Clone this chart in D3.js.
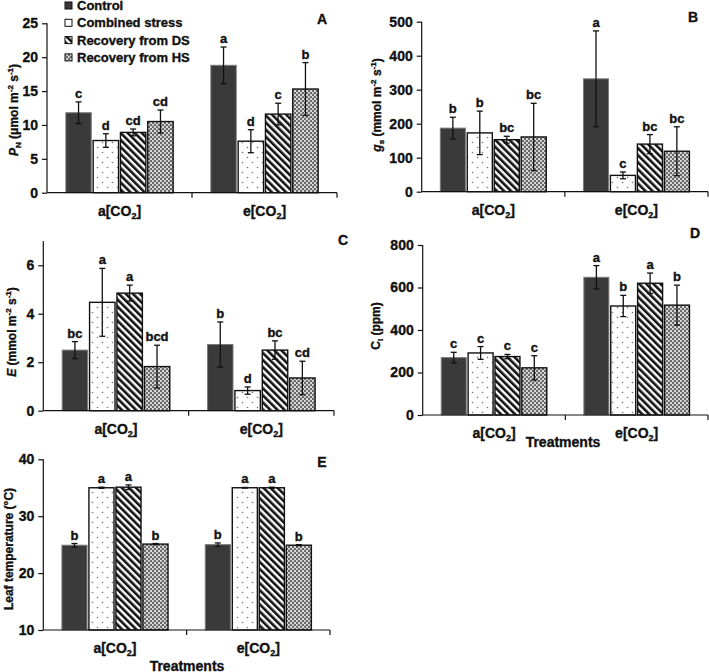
<!DOCTYPE html>
<html><head><meta charset="utf-8">
<script src="https://cdn.jsdelivr.net/npm/d3@7"></script>
<style>body{margin:0;background:#fff}svg{display:block}text{font-family:"Liberation Sans",Arial,sans-serif;font-weight:bold;fill:#111;stroke:#111;stroke-width:0.35px}</style>
</head><body><svg id="c" width="709" height="672"></svg>
<script>
const categories = ["a","e"];
const series = ["Control","Combined stress","Recovery from DS","Recovery from HS"];

// Panel A: PN
const pnMean = [[11.8,7.7,8.9,10.5],[18.8,7.6,11.6,15.3]];
const pnErr  = [[1.6,1.0,0.5,1.7],[2.7,1.7,1.6,3.9]];
const pnSig  = [["c","d","cd","cd"],["a","d","c","b"]];
const pnTicks = [0,5,10,15,20,25];
// Panel B: gs
const gsMean = [[187,173,153,161],[332,48,140,119]];
const gsErr  = [[32,64,10,99],[141,10,28,72]];
const gsSig  = [["b","b","bc","bc"],["a","c","bc","bc"]];
const gsTicks = [0,100,200,300,400,500];
// Panel C: E
const eMean = [[2.5,4.47,4.85,1.82],[2.73,0.83,2.5,1.35]];
const eErr  = [[0.35,1.4,0.33,0.88],[0.93,0.15,0.38,0.69]];
const eSig  = [["bc","a","a","bcd"],["b","d","bc","cd"]];
const eTicks = [0,2,4,6];
// Panel D: Ci
const ciMean = [[270,292,275,222],[648,513,620,517]];
const ciErr  = [[25,30,10,57],[55,50,48,94]];
const ciSig  = [["c","c","c","c"],["a","b","a","b"]];
const ciTicks = [0,200,400,600,800];
// Panel E: leaf temperature
const ltMean = [[24.9,35.0,35.1,25.1],[25.0,35.0,35.0,24.9]];
const ltErr  = [[0.3,0.1,0.4,0.1],[0.3,0.05,0.1,0.1]];
const ltSig  = [["b","a","a","b"],["b","a","a","b"]];
const ltTicks = [10,20,30,40];

const svg = d3.select("#c");
const defs = svg.append("defs");
// patterns
const pd = defs.append("pattern").attr("id","dots").attr("patternUnits","userSpaceOnUse").attr("width",10).attr("height",10);
pd.append("rect").attr("width",10).attr("height",10).attr("fill","#fff");
pd.append("circle").attr("cx",2.5).attr("cy",2.5).attr("r",0.8).attr("fill","#777");
pd.append("circle").attr("cx",7.5).attr("cy",7.5).attr("r",0.8).attr("fill","#777");
const ps = defs.append("pattern").attr("id","stripes").attr("patternUnits","userSpaceOnUse").attr("width",5).attr("height",5).attr("patternTransform","rotate(-45)");
ps.append("rect").attr("width",5).attr("height",5).attr("fill","#fff");
ps.append("rect").attr("width",2.6).attr("height",5).attr("fill","#111");
const pc = defs.append("pattern").attr("id","checks").attr("patternUnits","userSpaceOnUse").attr("width",4).attr("height",4);
pc.append("rect").attr("width",4).attr("height",4).attr("fill","#6a6a6a");
pc.append("rect").attr("x",0).attr("y",0).attr("width",2).attr("height",2).attr("fill","#d8d8d8");
pc.append("rect").attr("x",2).attr("y",2).attr("width",2).attr("height",2).attr("fill","#d8d8d8");
pc.append("rect").attr("x",1).attr("y",1).attr("width",1).attr("height",1).attr("fill","#999");

const fills = ["#3a3a3a","url(#dots)","url(#stripes)","url(#checks)"];
const strokes = ["#7a7a7a","#111","#111","#111"];

const panels = [
  {mean:pnMean,err:pnErr,sig:pnSig,ticks:pnTicks,dom:[0,25],x:47,xEnd:337,y0:192.7,yTop:23.3,letter:"A",lx:322,ly:24,
   ylab:[["P","i"],["N","sub"],[" (μmol m",""],["-2","sup"],[" s",""],["-1","sup"],[")",""]],ylx:18,yly:110},
  {mean:gsMean,err:gsErr,sig:gsSig,ticks:gsTicks,dom:[0,500],x:421.7,xEnd:708,y0:191.7,yTop:21.7,letter:"B",lx:693,ly:22,
   ylab:[["g","i"],["s","sub"],[" (mmol m",""],["-2","sup"],[" s",""],["-1","sup"],[")",""]],ylx:381,yly:105},
  {mean:eMean,err:eErr,sig:eSig,ticks:eTicks,dom:[0,7],x:43.3,xEnd:334,y0:410.7,yTop:241,letter:"C",lx:343,ly:245,
   ylab:[["E","i"],[" (mmol m",""],["-2","sup"],[" s",""],["-1","sup"],[")",""]],ylx:16,yly:332},
  {mean:ciMean,err:ciErr,sig:ciSig,ticks:ciTicks,dom:[0,800],x:422.7,xEnd:708,y0:415,yTop:245,letter:"D",lx:695,ly:238,
   ylab:[["C",""],["i","sub"],[" (ppm)",""]],ylx:380,yly:326,xlab:[563,447]},
  {mean:ltMean,err:ltErr,sig:ltSig,ticks:ltTicks,dom:[10,40],x:43.3,xEnd:330,y0:630,yTop:459.3,letter:"E",lx:322,ly:467,
   ylab:[["Leaf temperature (°C)",""]],ylx:13,yly:549,xlab:[187,671]}
];

panels.forEach(p=>{
  const g = svg.append("g");
  const y = d3.scaleLinear().domain(p.dom).range([p.y0,p.yTop]);
  const x0 = d3.scaleBand().domain(categories).range([p.x,p.xEnd]);
  const bw = x0.bandwidth();
  const gw = bw*0.74;
  const x1 = d3.scaleBand().domain(d3.range(4)).range([0,gw]).paddingInner(0.07);
  categories.forEach((c,ci)=>{
    const gx = x0(c)+(bw-gw)/2;
    d3.range(4).forEach(si=>{
      const v = p.mean[ci][si], e = p.err[ci][si];
      const bx = gx + x1(si);
      g.append("rect").attr("x",bx).attr("y",y(v)).attr("width",x1.bandwidth()).attr("height",y(p.dom[0])-y(v))
        .attr("fill",fills[si]).attr("stroke",strokes[si]).attr("stroke-width",si===0?1:1.4);
      const cx = bx + x1.bandwidth()/2;
      const eb = g.append("g").attr("stroke","#111").attr("stroke-width",1.3);
      eb.append("line").attr("x1",cx).attr("x2",cx).attr("y1",y(v+e)).attr("y2",y(v-e));
      eb.append("line").attr("x1",cx-3).attr("x2",cx+3).attr("y1",y(v+e)).attr("y2",y(v+e));
      eb.append("line").attr("x1",cx-3).attr("x2",cx+3).attr("y1",y(v-e)).attr("y2",y(v-e));
      g.append("text").attr("x",cx).attr("y",y(v+e)-4).attr("text-anchor","middle").attr("font-size",13).text(p.sig[ci][si]);
    });
    // category label
    const t = g.append("text").attr("x",x0(c)+bw/2).attr("y",p.y0+23).attr("text-anchor","middle").attr("font-size",14);
    t.append("tspan").text(c+"[CO");
    t.append("tspan").attr("font-size",9).attr("dy",3).text("2");
    t.append("tspan").attr("dy",-3).text("]");
  });
  // y axis
  const ya = d3.axisLeft(y).tickValues(p.ticks).tickFormat(d3.format("d")).tickSize(5).tickSizeOuter(0).tickPadding(4);
  const yg = g.append("g").attr("transform",`translate(${p.x},0)`).call(ya);
  yg.selectAll("text").attr("font-size",14).style("font-family","Liberation Sans, Arial").style("font-weight","bold").attr("fill","#111");
  yg.selectAll("line").attr("stroke","#111").attr("stroke-width",1.2);
  yg.select(".domain").attr("stroke","#111").attr("stroke-width",1.2).attr("d",`M0,${p.y0}V${p.yTop}`);
  // x axis
  const xg = g.append("g").attr("stroke","#111").attr("stroke-width",1.2);
  xg.append("line").attr("x1",p.x).attr("x2",p.xEnd).attr("y1",p.y0).attr("y2",p.y0);
  [x0("e"),p.xEnd].forEach(bx=>xg.append("line").attr("x1",bx).attr("x2",bx).attr("y1",p.y0).attr("y2",p.y0+5));
  // panel letter
  g.append("text").attr("x",p.lx).attr("y",p.ly).attr("text-anchor","middle").attr("font-size",14).text(p.letter);
  // y label
  const yl = g.append("text").attr("transform",`translate(${p.ylx},${p.yly}) rotate(-90)`).attr("text-anchor","middle").attr("font-size",12);
  let shift = 0;
  p.ylab.forEach(([s,k])=>{
    const ts = yl.append("tspan").text(s);
    let target = 0;
    if(k==="i") ts.attr("font-style","italic");
    if(k==="sub"){ts.attr("font-size",8); target = 3;}
    if(k==="sup"){ts.attr("font-size",8); target = -5;}
    ts.attr("dy",target-shift); shift = target;
  });
  if(p.xlab) g.append("text").attr("x",p.xlab[0]).attr("y",p.xlab[1]).attr("text-anchor","middle").attr("font-size",14).text("Treatments");
});

// legend
const lg = svg.append("g");
series.forEach((s,i)=>{
  const yy = 5.5 + i*17.3;
  lg.append("rect").attr("x",65).attr("y",yy-3.5).attr("width",7).attr("height",7).attr("fill",fills[i]).attr("stroke","#111").attr("stroke-width",1);
  lg.append("text").attr("x",77).attr("y",yy+4.5).attr("font-size",13).text(s);
});
</script></body></html>
